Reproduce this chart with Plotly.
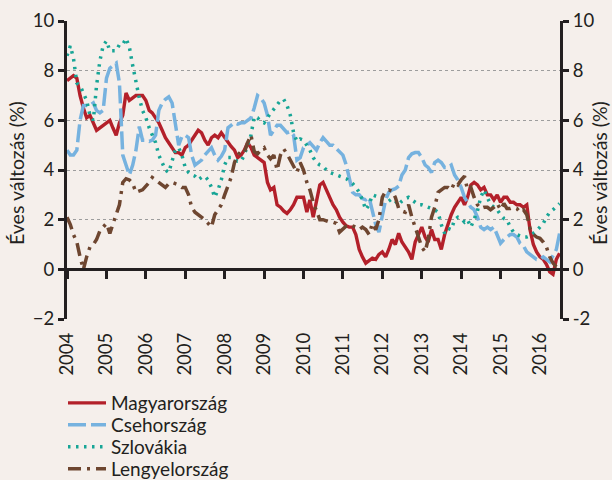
import plotly.graph_objects as go
import pandas as pd

dates = pd.date_range("2004-01-01", periods=151, freq="MS")

magyarorszag = [
    7.6, 7.7, 7.8, 7.7, 7.0, 6.5, 6.1, 6.2, 5.9, 5.6, 5.7, 5.8,
    5.9, 6.0, 5.7, 5.4, 5.9, 6.2, 7.1, 6.8, 6.9, 7.0, 7.0, 7.0,
    6.8, 6.4, 6.3, 6.1, 5.9, 5.6, 5.3, 5.1, 4.9, 4.7, 4.7, 4.6,
    4.9, 5.0, 5.2, 5.4, 5.6, 5.5, 5.2, 5.0, 5.3, 5.4, 5.3, 5.5,
    5.3, 5.1, 4.95, 4.8, 4.5, 4.6, 4.8, 5.1, 4.9, 4.6, 4.5, 4.4,
    4.3, 3.5, 3.2, 3.3, 2.6, 2.5, 2.35, 2.25, 2.4, 2.6, 2.9, 2.9,
    2.9, 2.3, 2.8, 2.1, 2.8, 3.4, 3.5, 3.2, 2.9, 2.6, 2.4, 2.1,
    1.9, 1.75, 1.7, 1.7, 1.4, 0.8, 0.5, 0.25, 0.35, 0.45, 0.4, 0.6,
    0.7, 0.5, 0.8, 1.2, 1.0, 1.45, 1.1, 0.9, 0.7, 0.4, 1.1, 1.4,
    1.7, 1.3, 1.1, 1.6, 1.2, 1.2, 0.8, 1.4, 1.85, 2.2, 2.5, 2.7,
    2.9, 2.6, 2.9, 3.4, 3.5, 3.4, 3.2, 3.3, 3.0, 3.0, 2.8, 3.0,
    2.7, 2.9, 2.9, 2.7, 2.7, 2.6, 2.6, 2.5, 2.6, 1.6, 1.0, 0.7,
    0.5, 0.4, 0.2, -0.1, -0.2, 0.4, 0.65,
]

csehorszag = [
    4.8, 4.6, 4.6, 4.8, 6.0, 6.6, 6.6, 6.6, 6.7, 6.4, 6.3, 6.4,
    7.7, 8.1, 8.2, 8.3, 7.5, 4.6, 4.2, 3.8, 4.2, 4.8, 5.75, 5.2,
    5.2, 5.15, 5.2, 5.4, 6.4, 6.7, 6.85, 6.95, 6.7, 5.9, 5.0, 5.35,
    5.4, 5.3, 4.6, 4.2, 4.3, 4.4, 4.6, 4.75, 4.9, 4.6, 4.4, 4.55,
    4.8, 5.7, 5.8, 5.9, 5.85, 5.9, 5.9, 6.0, 6.1, 6.5, 7.0, 6.9,
    6.7, 6.2, 5.4, 5.6, 5.8, 5.8, 5.65, 5.5, 5.55, 5.4, 4.4, 4.5,
    4.9, 5.0, 5.1, 4.95, 4.8, 5.1, 5.3, 5.15, 5.0, 5.0, 4.85, 4.7,
    4.6, 4.2, 3.7, 3.1, 3.0, 3.0, 2.85, 2.8, 2.9, 2.3, 1.8, 1.5,
    2.2, 2.8, 3.1, 3.2, 3.25, 3.35, 3.8, 4.0, 4.5, 4.65, 4.7, 4.7,
    4.5, 4.2, 4.1, 3.9, 4.3, 4.4, 4.3, 4.1, 4.1, 4.2, 3.8, 3.6,
    3.3, 2.9, 2.7, 2.5, 2.4, 2.1, 1.7, 1.6, 1.7, 1.6, 1.7, 1.4,
    1.05, 1.2, 1.3, 1.4, 1.4, 1.3, 1.05, 0.95, 0.7, 0.6, 0.5, 0.4,
    0.4, 0.5, 0.4, 0.3, 0.55, 0.8, 1.45,
]

szlovakia = [
    8.6, 9.0, 8.5, 7.5, 7.4, 7.1, 6.8, 6.2, 6.0, 7.4, 8.4, 9.0,
    9.2, 8.8, 8.8, 8.8, 9.05, 9.05, 9.3, 8.95, 8.2, 7.5, 6.9, 6.4,
    6.1, 5.7, 5.4, 5.1, 4.6, 4.3, 4.0, 3.9, 4.35, 4.8, 4.9, 4.6,
    4.1, 3.9, 3.8, 3.75, 3.6, 3.7, 3.75, 3.6, 3.3, 2.9, 3.2, 3.6,
    4.2, 4.5, 4.5, 4.4, 4.35, 4.35, 4.6, 5.0, 5.4, 6.15, 6.1, 5.95,
    5.9, 6.1, 6.3, 6.45, 6.65, 6.8, 6.85, 6.6, 6.2, 5.5, 5.15, 5.25,
    5.2, 5.0, 4.8, 4.5, 4.3, 4.2, 4.15, 4.0, 3.9, 3.85, 3.8, 3.75,
    3.7, 3.65, 3.55, 3.45, 3.3, 3.1, 2.8, 2.4, 2.6, 3.0, 2.95, 2.9,
    2.85, 2.8, 2.75, 2.85, 2.75, 2.6, 2.75, 2.85, 2.9, 2.8, 2.7, 2.6,
    2.6, 2.55, 2.5, 2.45, 2.4, 2.3, 1.8, 1.45, 1.65, 1.6, 2.0, 2.1,
    2.05, 1.9, 2.0, 1.7, 2.05, 2.35, 2.9, 3.2, 2.9, 2.6, 2.5, 2.4,
    2.2, 2.05, 2.0, 1.7, 1.5, 1.4, 1.35, 1.3, 1.3, 1.35, 1.45, 1.55,
    1.7, 1.85, 2.1, 2.3, 2.4, 2.55, 2.65,
]

lengyelorszag = [
    2.1, 1.8, 1.4, 1.1, 0.5, 0.0, 0.5, 0.9, 1.0, 1.2, 1.55, 1.7,
    1.85, 1.45, 1.8, 2.2, 2.6, 3.5, 3.65, 3.6, 3.45, 3.1, 3.15, 3.2,
    3.35, 3.5, 3.7, 3.6, 3.5, 3.4, 3.3, 3.45, 3.5, 3.45, 3.4, 3.3,
    3.3, 3.0, 2.5, 2.3, 2.2, 2.1, 2.0, 1.85, 1.7, 2.2, 2.4, 2.6,
    3.0, 3.4, 3.7, 4.3, 4.6, 4.75, 4.7, 5.1, 5.4, 4.75, 4.65, 4.8,
    4.9, 4.6, 4.45, 4.6, 4.0, 4.6, 4.85, 4.65, 4.4, 4.1, 3.9, 4.3,
    4.0, 3.5, 3.2, 2.7, 2.3, 2.0, 2.0, 1.95, 1.9, 1.9, 1.85, 1.5,
    1.65, 1.75, 1.8, 1.75, 1.7, 1.6, 1.7, 1.6, 1.4, 1.85, 1.6, 2.0,
    2.9, 3.15, 3.2, 3.15, 2.9, 2.45, 2.35, 2.3, 2.6, 2.1, 1.7, 1.3,
    0.9, 0.7, 1.2, 2.1, 2.5, 3.1, 3.2, 3.3, 3.3, 3.2, 3.5, 3.4,
    3.6, 3.75, 3.2, 3.3, 2.9, 2.6, 2.45, 2.5, 2.5, 2.4, 2.5, 2.65,
    2.4, 2.65, 2.45, 2.45, 2.5, 2.45, 2.3, 2.4, 2.2, 1.65, 1.4, 1.3,
    1.25, 1.1, 0.9, 0.5, 0.25, 0.1, 0.1,
]

series_names = ["Magyarország", "Csehország", "Szlovákia", "Lengyelország"]
year_labels = [str(y) for y in range(2004, 2017)]
year_ticks = [f"{y}-01-01" for y in range(2004, 2017)]
y_ticks = [-2, 0, 2, 4, 6, 8, 10]
y_ticktext_right = ["-2", "0", "2", "4", "6", "8", "10"]
y_ticktext_left = ["\u22122", "0", "2", "4", "6", "8", "10"]

FONT = "Lato"
TXT = "#231f20"
BG = "#f5efeb"

styles = [
    dict(color="#b3202a", width=3.4, dash="solid"),
    dict(color="#76b2df", width=3.5, dash="18px,5px"),
    dict(color="#17a596", width=3.5, dash="2.5px,5.5px"),
    dict(color="#6e4630", width=3.5, dash="13px,6px,3px,6px"),
]
legend_ids = ["legend", "legend2", "legend3", "legend4"]

# plot area in pixels: left 67, right 560, top 21, bottom 319
PLOT_H = 298.0
legend_centers_px = [403, 425, 447, 469]

fig = go.Figure()
for name, vals, st, lg in zip(series_names,
                              [magyarorszag, csehorszag, szlovakia, lengyelorszag],
                              styles, legend_ids):
    fig.add_trace(go.Scatter(x=dates, y=vals, mode="lines", name=name, line=st,
                             legend=lg))

# helper traces for secondary axes
fig.add_trace(go.Scatter(x=[dates[0]], y=[None], xaxis="x2", yaxis="y",
                         showlegend=False, hoverinfo="skip"))
fig.add_trace(go.Scatter(x=[dates[0]], y=[None], xaxis="x", yaxis="y2",
                         showlegend=False, hoverinfo="skip"))

xrange = ["2004-01-01", "2016-07-05"]

legend_layouts = {}
for lg, cy in zip(legend_ids, legend_centers_px):
    legend_layouts[lg] = dict(
        x=(63 - 67) / 493, y=-(cy - 319) / PLOT_H, xanchor="left", yanchor="middle",
        bgcolor="rgba(0,0,0,0)", font=dict(family=FONT, size=19, color=TXT),
        itemwidth=38, borderwidth=0,
    )

fig.update_layout(
    width=612, height=480,
    paper_bgcolor=BG, plot_bgcolor=BG,
    margin=dict(l=67, r=52, t=21, b=161, autoexpand=False),
    font=dict(family=FONT, size=18, color=TXT),
    showlegend=True,
    xaxis=dict(type="date", range=xrange, tickvals=year_ticks, ticktext=year_labels,
               tickangle=-90, showline=False, ticks="", showgrid=False,
               zeroline=False, ticklabelstandoff=9, automargin=False,
               tickfont=dict(size=18.5, color=TXT)),
    xaxis2=dict(type="date", range=xrange, overlaying="x", anchor="free",
                position=2 / 12, side="bottom", tickvals=year_ticks,
                showticklabels=False, ticks="outside", ticklen=8, tickwidth=2.5,
                tickcolor=TXT, showline=True, linewidth=3, linecolor=TXT,
                showgrid=False, zeroline=False, automargin=False),
    yaxis=dict(range=[-2, 10], tickvals=y_ticks, ticktext=y_ticktext_left,
               ticks="outside", ticklen=6, tickwidth=2.5, tickcolor=TXT,
               showline=True, linewidth=3, linecolor=TXT, automargin=False,
               showgrid=True, gridcolor="#9d9d9d", gridwidth=1, griddash="dot",
               zeroline=False, tickfont=dict(size=18.5, color=TXT)),
    yaxis2=dict(range=[-2, 10], overlaying="y", side="right", anchor="x",
                tickvals=y_ticks, ticktext=y_ticktext_right, automargin=False,
                ticks="outside", ticklen=6, tickwidth=2.5, tickcolor=TXT,
                showline=True, linewidth=3, linecolor=TXT, showgrid=False,
                zeroline=False, tickfont=dict(size=18.5, color=TXT)),
    annotations=[
        dict(text="Éves változás (%)", xref="paper", yref="paper",
             x=(17 - 67) / 493, y=0.49, textangle=-90, showarrow=False,
             xanchor="center", yanchor="middle", font=dict(size=19.5, color=TXT)),
        dict(text="Éves változás (%)", xref="paper", yref="paper",
             x=(600 - 67) / 493, y=0.49, textangle=-90, showarrow=False,
             xanchor="center", yanchor="middle", font=dict(size=19.5, color=TXT)),
    ],
    **legend_layouts,
)

fig.write_html(
    "out.html",
    config={"displayModeBar": False},
    post_script="document.body.style.margin='0';"
                "document.body.style.background='#f5efeb';",
)
